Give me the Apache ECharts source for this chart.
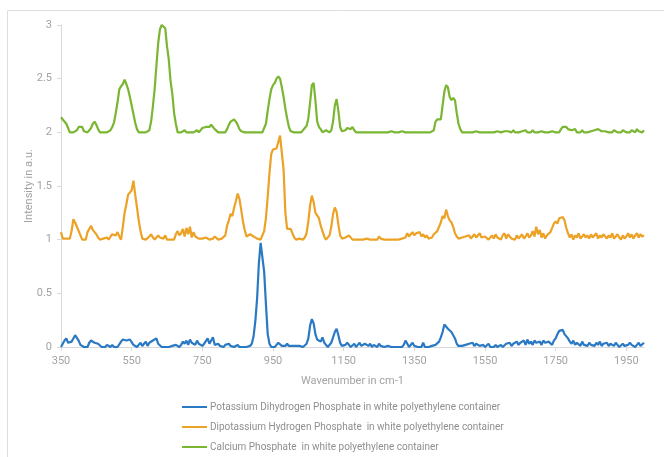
<!DOCTYPE html>
<html>
<head>
<meta charset="utf-8">
<script src="https://cdn.jsdelivr.net/npm/echarts@6/dist/echarts.min.js"></script>
<style>
  html, body { margin: 0; padding: 0; background: #fff; }
  #main { width: 664px; height: 457px; }
</style>
</head>
<body>
<div id="main"></div>
<script>
// wavenumber grid: 350 .. 2000 cm-1, one reading every 5 cm-1
const wavenumbers = []
for (let w = 350; w <= 2000; w += 5) wavenumbers.push(w)

const seriesNames = [
  'Potassium Dihydrogen Phosphate in white polyethylene container',
  'Dipotassium Hydrogen Phosphate  in white polyethylene container',
  'Calcium Phosphate  in white polyethylene container',
]

// rows of 20 (100 cm-1 each)
const potassiumDihydrogen = [
  0.00,0.01,0.06,0.08,0.04,0.03,0.05,0.08,0.11,0.12,0.06,0.02,0.01,0.00,0.01,0.00,0.04,0.06,0.05,0.04, // 350
  0.05,0.03,0.02,0.00,0.01,0.00,0.02,0.01,0.00,0.02,0.00,0.01,0.00,0.01,0.05,0.07,0.06,0.06,0.06,0.07, // 450
  0.06,0.02,0.01,0.00,0.02,0.04,0.01,0.03,0.05,0.01,0.04,0.03,0.06,0.05,0.08,0.03,0.02,0.00,0.01,0.00, // 550
  0.01,0.00,0.00,0.01,0.00,0.02,0.01,0.00,0.02,0.05,0.03,0.06,0.02,0.07,0.04,0.05,0.02,0.06,0.03,0.04, // 650
  0.01,0.03,0.02,0.08,0.03,0.02,0.09,0.02,0.01,0.03,0.01,0.02,0.00,0.02,0.01,0.03,0.01,0.02,0.00,0.01, // 750
  0.02,0.00,0.01,0.00,0.01,0.00,0.00,0.01,0.03,0.10,0.24,0.45,0.78,0.97,0.96,0.70,0.40,0.12,0.03,0.00, // 850
  0.00,0.00,0.02,0.04,0.03,0.01,0.02,0.01,0.03,0.01,0.02,0.01,0.00,0.01,0.00,0.01,0.00,0.00,0.01,0.03, // 950
  0.08,0.20,0.26,0.22,0.12,0.07,0.08,0.05,0.09,0.04,0.02,0.00,0.01,0.04,0.09,0.14,0.17,0.11,0.04,0.01, // 1050
  0.00,0.02,0.04,0.02,0.00,0.01,0.03,0.00,0.02,0.04,0.01,0.00,0.03,0.02,0.01,0.03,0.00,0.02,0.01,0.00, // 1150
  0.03,0.01,0.02,0.00,0.00,0.01,0.00,0.00,0.00,0.00,0.00,0.00,0.01,0.00,0.02,0.06,0.03,0.00,0.01,0.04, // 1250
  0.01,0.00,0.00,0.01,0.00,0.04,0.00,0.00,0.00,0.00,0.01,0.00,0.02,0.03,0.05,0.09,0.14,0.21,0.20,0.17, // 1350
  0.16,0.14,0.13,0.08,0.03,0.01,0.00,0.01,0.00,0.02,0.01,0.03,0.02,0.04,0.01,0.03,0.04,0.01,0.00,0.02, // 1450
  0.00,0.01,0.03,0.00,0.01,0.00,0.02,0.00,0.01,0.02,0.00,0.01,0.03,0.02,0.04,0.01,0.03,0.02,0.05,0.02, // 1550
  0.04,0.03,0.06,0.02,0.07,0.03,0.05,0.02,0.06,0.04,0.03,0.05,0.02,0.06,0.04,0.03,0.05,0.04,0.02,0.06, // 1650
  0.08,0.12,0.15,0.14,0.16,0.12,0.13,0.08,0.05,0.03,0.06,0.02,0.04,0.03,0.01,0.05,0.02,0.03,0.01,0.04, // 1750
  0.02,0.03,0.01,0.04,0.02,0.05,0.01,0.03,0.02,0.04,0.01,0.03,0.02,0.01,0.04,0.02,0.00,0.01,0.03,0.01, // 1850
  0.00,0.02,0.04,0.02,0.01,0.00,0.02,0.04,0.01,0.02,0.04, // 1950
]

const dipotassiumHydrogen = [
  1.07,1.01,1.00,1.01,1.00,1.01,1.08,1.19,1.16,1.12,1.13,1.04,1.00,1.01,1.00,1.07,1.08,1.13,1.09,1.07, // 350
  1.05,1.02,1.00,1.00,1.01,1.00,1.02,1.00,1.03,1.05,1.06,1.04,1.07,1.03,1.00,1.12,1.25,1.33,1.42,1.44, // 450
  1.46,1.55,1.42,1.30,1.18,1.08,1.01,1.00,1.00,1.00,1.03,1.05,1.02,1.00,1.02,1.04,1.02,1.03,1.01,1.04, // 550
  1.00,1.00,1.00,1.01,1.00,1.05,1.08,1.04,1.06,1.10,1.03,1.11,1.05,1.12,1.02,1.07,1.03,1.04,1.01,1.00, // 650
  1.01,1.00,1.02,1.01,1.00,1.00,1.01,1.03,1.02,1.00,1.00,1.01,1.00,1.04,1.13,1.18,1.24,1.22,1.30,1.36, // 750
  1.43,1.38,1.28,1.17,1.09,1.03,1.02,1.05,1.05,1.03,1.02,1.01,1.00,1.00,1.00,1.08,1.20,1.40,1.62,1.80, // 850
  1.84,1.85,1.85,1.86,1.97,1.98,1.65,1.25,1.10,1.10,1.10,1.06,1.02,1.00,1.00,1.01,1.00,1.00,1.02,1.06, // 950
  1.17,1.32,1.41,1.35,1.25,1.24,1.20,1.13,1.08,1.03,1.00,1.00,1.04,1.12,1.24,1.30,1.26,1.14,1.04,1.01, // 1050
  1.00,1.02,1.01,1.04,1.03,1.00,1.01,1.00,1.01,1.00,1.00,1.00,1.00,1.01,1.00,1.00,1.00,1.00,1.01,1.00, // 1150
  1.03,1.01,1.00,1.00,1.00,1.00,1.00,1.00,1.00,1.00,1.00,1.00,1.00,1.01,1.00,1.02,1.06,1.03,1.05,1.07, // 1250
  1.04,1.06,1.05,1.07,1.03,1.05,1.02,1.04,1.01,1.00,1.02,1.05,1.04,1.08,1.12,1.16,1.22,1.20,1.28,1.22, // 1350
  1.18,1.16,1.12,1.06,1.03,1.01,1.00,1.02,1.01,1.03,1.02,1.04,1.01,1.03,1.05,1.02,1.03,1.06,1.02,1.01, // 1450
  1.03,1.02,1.00,1.01,1.04,1.01,1.05,1.02,1.03,1.00,1.04,1.06,1.01,1.05,1.03,1.01,1.02,1.00,1.04,1.01, // 1550
  1.02,1.05,1.01,1.03,1.06,1.02,1.04,1.08,1.03,1.12,1.05,1.09,1.02,1.06,1.01,1.04,1.03,1.07,1.11,1.15, // 1650
  1.17,1.15,1.20,1.19,1.21,1.18,1.11,1.06,1.02,1.05,1.00,1.04,1.02,1.06,1.01,1.03,1.05,1.02,1.04,1.01, // 1750
  1.05,1.02,1.03,1.06,1.01,1.04,1.02,1.05,1.03,1.01,1.04,1.02,1.06,1.01,1.03,1.05,1.02,1.00,1.04,1.01, // 1850
  1.03,1.06,1.02,1.05,1.01,1.04,1.06,1.02,1.05,1.03,1.04, // 1950
]

const calciumPhosphate = [
  2.14,2.12,2.11,2.08,2.04,2.00,2.01,2.00,2.00,2.02,2.05,2.04,2.05,2.01,2.00,2.00,2.02,2.04,2.08,2.10, // 350
  2.07,2.03,2.00,2.00,2.00,2.00,2.00,2.00,2.02,2.05,2.09,2.18,2.28,2.40,2.43,2.45,2.49,2.45,2.40,2.33, // 450
  2.25,2.17,2.09,2.03,2.00,2.00,2.00,2.00,2.00,2.00,2.02,2.10,2.24,2.40,2.62,2.83,2.96,3.00,2.99,2.97, // 550
  2.80,2.68,2.48,2.36,2.18,2.08,2.00,2.00,2.00,2.00,2.02,2.00,2.00,2.00,2.00,2.00,2.00,2.02,2.00,2.02, // 650
  2.04,2.03,2.05,2.04,2.05,2.07,2.05,2.03,2.02,2.00,2.00,2.00,2.00,2.00,2.03,2.07,2.10,2.11,2.12,2.10, // 750
  2.07,2.03,2.01,2.00,2.00,2.00,2.00,2.00,2.00,2.00,2.00,2.00,2.00,2.00,2.00,2.00,2.08,2.20,2.31,2.40, // 850
  2.44,2.46,2.50,2.52,2.50,2.42,2.33,2.22,2.13,2.05,2.01,2.00,2.00,2.00,2.00,2.00,2.00,2.00,2.04,2.06, // 950
  2.13,2.28,2.44,2.46,2.30,2.10,2.05,2.03,2.00,2.01,2.02,2.01,2.00,2.02,2.10,2.25,2.31,2.20,2.05,2.01, // 1050
  2.00,2.02,2.04,2.05,2.03,2.05,2.02,2.00,2.00,2.00,2.00,2.00,2.00,2.00,2.00,2.00,2.00,2.00,2.00,2.00, // 1150
  2.00,2.00,2.00,2.00,2.00,2.00,2.00,2.01,2.00,2.00,2.00,2.00,2.00,2.01,2.00,2.00,2.00,2.00,2.00,2.00, // 1250
  2.00,2.00,2.01,2.00,2.00,2.00,2.00,2.00,2.00,2.00,2.00,2.02,2.10,2.12,2.13,2.12,2.25,2.38,2.44,2.42, // 1350
  2.33,2.30,2.32,2.30,2.18,2.08,2.03,2.00,2.00,2.00,2.00,2.00,2.00,2.00,2.00,2.01,2.00,2.00,2.00,2.00, // 1450
  2.00,2.00,2.00,2.00,2.01,2.00,2.00,2.01,2.00,2.00,2.00,2.01,2.00,2.01,2.00,2.00,2.02,2.00,2.01,2.00, // 1550
  2.00,2.01,2.00,2.02,2.00,2.01,2.00,2.02,2.00,2.01,2.00,2.00,2.01,2.00,2.00,2.01,2.00,2.00,2.01,2.00, // 1650
  2.00,2.01,2.00,2.03,2.05,2.04,2.05,2.03,2.04,2.02,2.01,2.03,2.00,2.01,2.00,2.02,2.00,2.01,2.00,2.00, // 1750
  2.01,2.00,2.02,2.01,2.03,2.02,2.01,2.00,2.01,2.00,2.00,2.01,2.00,2.02,2.01,2.00,2.01,2.00,2.02,2.01, // 1850
  2.00,2.01,2.00,2.02,2.01,2.00,2.03,2.01,2.02,2.00,2.02, // 1950
]

const colors = ['#2a79c4', '#eca226', '#7ab631']
const seriesValues = [potassiumDihydrogen, dipotassiumHydrogen, calciumPhosphate]

const axisText = { color: '#a3a3a3', fontSize: 11, fontFamily: 'Roboto' }
const axisLine = { lineStyle: { color: '#d9d9d9' } }

const chart = echarts.init(document.getElementById('main'))
chart.setOption({
  animation: false,
  color: colors,
  textStyle: { fontFamily: 'Roboto' },
  graphic: [{
    type: 'rect',
    shape: { x: 7.5, y: 10.5, width: 700, height: 500 },
    style: { fill: 'none', stroke: '#dedede', lineWidth: 1 },
    silent: true,
  }],
  grid: { left: 61, right: 20, top: 25, bottom: 110 },
  legend: {
    orient: 'vertical',
    left: 182,
    top: 402,
    padding: 0,
    icon: 'rect',
    itemWidth: 25,
    itemHeight: 2,
    itemGap: 10,
    textStyle: { color: '#8f8f8f', fontSize: 10, fontFamily: 'Roboto', padding: [0, 0, 0, -2] },
    data: seriesNames,
  },
  xAxis: {
    type: 'value',
    min: 350,
    max: 2000,
    interval: 200,
    name: 'Wavenumber in cm-1',
    nameLocation: 'middle',
    nameGap: 29,
    nameTextStyle: axisText,
    axisLine: axisLine,
    axisTick: { show: true, length: 4, lineStyle: { color: '#d9d9d9' } },
    axisLabel: Object.assign({ margin: 9, showMaxLabel: false, formatter: (v) => String(v) }, axisText),
    splitLine: { show: false },
  },
  yAxis: {
    type: 'value',
    min: 0,
    max: 3,
    interval: 0.5,
    name: 'Intensity in a.u.',
    nameLocation: 'middle',
    nameGap: 26,
    nameMoveOverlap: false,
    nameTextStyle: axisText,
    axisLine: Object.assign({ show: true }, axisLine),
    axisTick: { show: true, length: 4, lineStyle: { color: '#d9d9d9' } },
    axisLabel: Object.assign({ margin: 9 }, axisText),
    splitLine: { show: false },
  },
  series: seriesValues.map((vals, i) => ({
    name: seriesNames[i],
    type: 'line',
    symbol: 'none',
    lineStyle: { width: 2.2 },
    data: vals.map((v, j) => [wavenumbers[j], v]),
  })),
})
</script>
</body>
</html>
